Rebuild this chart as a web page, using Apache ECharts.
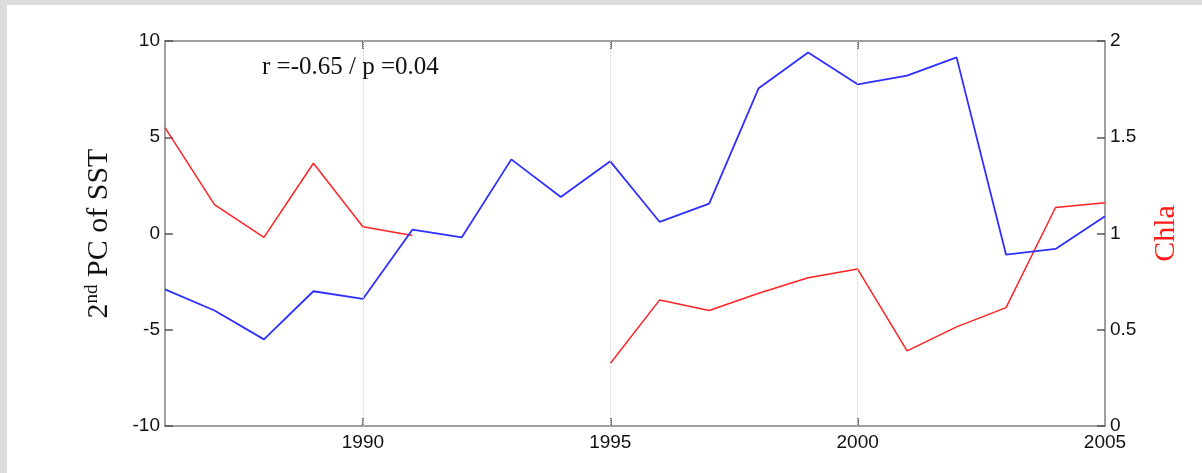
<!DOCTYPE html>
<html>
<head>
<meta charset="utf-8">
<script src="https://cdn.jsdelivr.net/npm/echarts@6/dist/echarts.min.js"></script>
<style>
  html, body { margin: 0; padding: 0; background: #dcdcdc; width: 1202px; height: 473px; overflow: hidden; }
  #chart { position: absolute; left: 7px; top: 5px; width: 1195px; height: 468px; background: #ffffff; }
</style>
</head>
<body>
<div id="chart"></div>
<script>
// Data
const years = [1986, 1987, 1988, 1989, 1990, 1991, 1992, 1993, 1994, 1995, 1996, 1997, 1998, 1999, 2000, 2001, 2002, 2003, 2004, 2005];
const sstPC2 = [-2.9, -4.0, -5.5, -3.0, -3.4, 0.2, -0.2, 3.85, 1.9, 3.75, 0.6, 1.55, 7.55, 9.4, 7.75, 8.2, 9.15, -1.1, -0.8, 0.9];
const chla = [1.55, 1.15, 0.98, 1.365, 1.035, 0.99, null, null, null, 0.325, 0.655, 0.6, 0.69, 0.77, 0.815, 0.39, 0.515, 0.615, 1.135, 1.16];
const xTickLabels = [1990, 1995, 2000, 2005];
const xInnerTicks = [1990, 1995, 2000];
const annotation = 'r =-0.65 / p =0.04';

const chart = echarts.init(document.getElementById('chart'));
const axisGray = '#808080';
const tickFont = { color: '#111', fontFamily: 'Liberation Sans, Arial, sans-serif', fontSize: 19 };

const option = {
  animation: false,
  backgroundColor: '#ffffff',
  grid: { left: 158, right: 97, top: 36, bottom: 47, containLabel: false },
  xAxis: [
    {
      type: 'value', min: 1986, max: 2005, position: 'bottom',
      axisLine: { show: true, onZero: false, lineStyle: { color: axisGray, width: 1.5 } },
      axisTick: { show: true, inside: true, length: 8, customValues: xInnerTicks, lineStyle: { color: '#555', width: 1.5 } },
      axisLabel: Object.assign({ show: true, margin: 7, customValues: xTickLabels, formatter: v => String(v) }, tickFont),
      splitLine: { show: false }
    },
    {
      type: 'value', min: 1986, max: 2005, position: 'top',
      axisLine: { show: true, onZero: false, lineStyle: { color: axisGray, width: 1.5 } },
      axisTick: { show: true, inside: true, length: 8, customValues: xInnerTicks, lineStyle: { color: '#555', width: 1.5 } },
      axisLabel: { show: false },
      splitLine: { show: false }
    }
  ],
  yAxis: [
    {
      type: 'value', min: -10, max: 10, interval: 5, position: 'left',
      axisLine: { show: true, onZero: false, lineStyle: { color: axisGray, width: 1.5 } },
      axisTick: { show: true, inside: true, length: 8, lineStyle: { color: '#555', width: 1.5 } },
      axisLabel: Object.assign({ margin: 5 }, tickFont),
      splitLine: { show: false },
      name: '{a|2}{b|nd}{a| PC of SST}',
      nameLocation: 'middle',
      nameGap: 50,
      nameRotate: 90,
      nameTextStyle: {
        rich: {
          a: { fontFamily: 'Liberation Serif, Times New Roman, serif', fontSize: 30, color: '#111', lineHeight: 32 },
          b: { fontFamily: 'Liberation Serif, Times New Roman, serif', fontSize: 19, color: '#111', verticalAlign: 'top', lineHeight: 32 }
        }
      }
    },
    {
      type: 'value', min: 0, max: 2, interval: 0.5, position: 'right',
      axisLine: { show: true, onZero: false, lineStyle: { color: axisGray, width: 1.5 } },
      axisTick: { show: true, inside: true, length: 8, lineStyle: { color: '#555', width: 1.5 } },
      axisLabel: Object.assign({ margin: 5 }, tickFont),
      splitLine: { show: false },
      name: 'Chla',
      nameLocation: 'middle',
      nameGap: 46,
      nameRotate: 90,
      nameTextStyle: { fontFamily: 'Liberation Serif, Times New Roman, serif', fontSize: 30, color: '#ff1a1a' }
    }
  ],
  graphic: [
    {
      type: 'text', left: 255, top: 50,
      style: { text: annotation, fontFamily: 'Liberation Serif, Times New Roman, serif', fontSize: 25, fill: '#111' }
    }
  ],
  series: [
    {
      name: 'Chla', type: 'line', xAxisIndex: 0, yAxisIndex: 1,
      data: years.map((y, i) => [y, chla[i]]),
      showSymbol: false, symbol: 'none', connectNulls: false,
      lineStyle: { color: '#ff2222', width: 1.5 },
      z: 2
    },
    {
      name: 'SST PC2', type: 'line', xAxisIndex: 0, yAxisIndex: 0,
      data: years.map((y, i) => [y, sstPC2[i]]),
      showSymbol: false, symbol: 'none',
      lineStyle: { color: '#2f2fff', width: 1.8 },
      z: 3,
      markLine: {
        silent: true, symbol: ['none', 'none'], animation: false,
        label: { show: false },
        lineStyle: { type: 'dotted', color: '#d4d4d4', width: 1 },
        data: xInnerTicks.map(v => ({ xAxis: v }))
      }
    }
  ]
};
chart.setOption(option);
</script>
</body>
</html>
